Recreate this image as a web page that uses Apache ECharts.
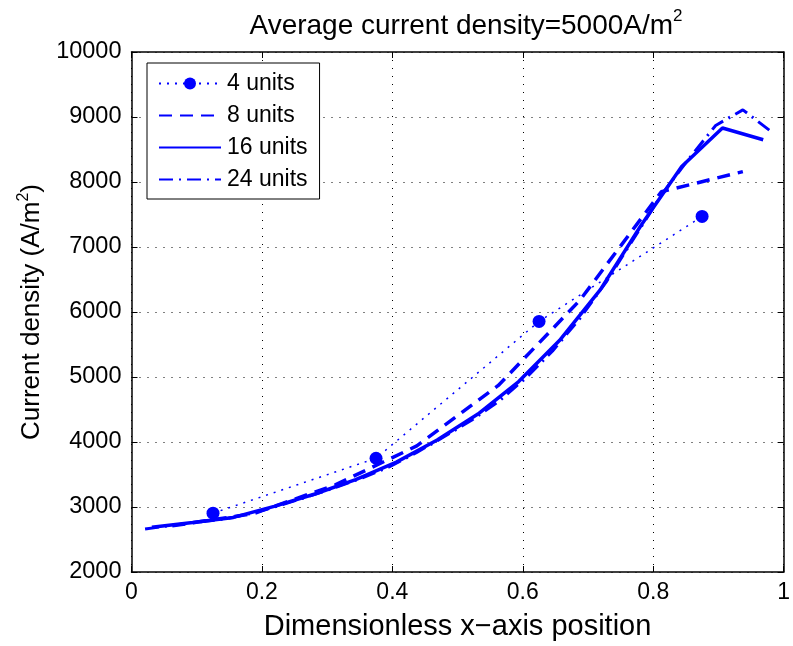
<!DOCTYPE html>
<html>
<head>
<meta charset="utf-8">
<script src="https://cdn.jsdelivr.net/npm/echarts@6/dist/echarts.min.js"></script>
<style>
html,body{margin:0;padding:0;background:#fff;}
#chart{width:793px;height:646px;}
</style>
</head>
<body>
<div id="chart"></div>
<script>
// ---- data ----
const x4 = [0.125, 0.375, 0.625, 0.875];
const y4 = [2905, 3750, 5855, 7470];

const x8 = [0.0625, 0.1875, 0.3125, 0.4375, 0.5625, 0.6875, 0.8125, 0.9375];
const y8 = [2710, 2900, 3340, 3940, 4870, 6180, 7850, 8160];

const x16 = [0.03125, 0.09375, 0.15625, 0.21875, 0.28125, 0.34375, 0.40625, 0.46875,
             0.53125, 0.59375, 0.65625, 0.71875, 0.78125, 0.84375, 0.90625, 0.96875];
const y16 = [2690, 2760, 2840, 3010, 3200, 3420, 3690, 4030,
             4430, 4930, 5560, 6340, 7330, 8240, 8830, 8650];

const x24 = [0.0208, 0.0625, 0.1042, 0.1458, 0.1875, 0.2292, 0.2708, 0.3125,
             0.3542, 0.3958, 0.4375, 0.4792, 0.5208, 0.5625, 0.6042, 0.6458,
             0.6875, 0.7292, 0.7708, 0.8125, 0.8542, 0.8958, 0.9375, 0.9792];
const y24 = [2660, 2720, 2770, 2820, 2910, 3030, 3160, 3300,
             3450, 3620, 3840, 4080, 4330, 4620, 4980, 5400,
             5900, 6480, 7140, 7800, 8350, 8870, 9110, 8790];

const seriesNames = ['4 units', '8 units', '16 units', '24 units'];

const titleMain = 'Average current density=5000A/m';
const yNameMain = 'Current density (A/m';
const xName = 'Dimensionless x\u2212axis position';

// ---- chart ----
const FONT = '"Liberation Sans", Arial, Helvetica, sans-serif';
const BLUE = '#0000ff';
const zip = (xs, ys) => xs.map((x, i) => [x, ys[i]]);

const chart = echarts.init(document.getElementById('chart'), null, {renderer: 'canvas'});

const gridStyle = {show: true, lineStyle: {color: '#000', width: 1, type: [1, 7]}};
const axisBase = {
  axisLine: {show: true, onZero: false, lineStyle: {color: '#000', width: 1.5}},
  axisTick: {show: true, inside: true, length: 6, lineStyle: {color: '#000', width: 1}},
};

const option = {
  backgroundColor: '#fff',
  animation: false,
  textStyle: {fontFamily: FONT},
  title: {
    text: '{a|' + titleMain + '}{s|2}',
    left: 461, top: 3, textAlign: 'center',
    textStyle: {
      fontWeight: 'normal',
      rich: {
        a: {fontFamily: FONT, fontSize: 28, fontWeight: 'normal', color: '#000', lineHeight: 32, verticalAlign: 'bottom'},
        s: {fontFamily: FONT, fontSize: 17, fontWeight: 'normal', color: '#000', lineHeight: 32, verticalAlign: 'top'}
      }
    }
  },
  grid: {left: 131.5, right: 3.5, top: 52, bottom: 72.7, containLabel: false},
  legend: {
    data: [
      {name: seriesNames[0]},
      {name: seriesNames[1], itemStyle: {opacity: 0}},
      {name: seriesNames[2], itemStyle: {opacity: 0}},
      {name: seriesNames[3], itemStyle: {opacity: 0}}
    ],
    orient: 'vertical',
    left: 147, top: 63,
    itemWidth: 62, itemHeight: 15, itemGap: 9,
    padding: [9, 12, 8, 11],
    backgroundColor: '#fff',
    borderColor: '#000', borderWidth: 1, borderRadius: 0,
    textStyle: {fontFamily: FONT, fontSize: 23, color: '#000', lineHeight: 20, padding: [0, 0, 0, 1]}
  },
  xAxis: [
    Object.assign({}, axisBase, {
      type: 'value', position: 'bottom', min: 0, max: 1, interval: 0.2,
      axisLabel: {color: '#000', fontSize: 23, fontFamily: FONT, margin: 9,
        formatter: v => String(+v.toFixed(1))},
      splitLine: gridStyle,
      name: xName, nameLocation: 'middle', nameGap: 40,
      nameTextStyle: {color: '#000', fontSize: 29, fontFamily: FONT}
    }),
    Object.assign({}, axisBase, {
      type: 'value', position: 'top', min: 0, max: 1, interval: 0.2,
      axisLabel: {show: false}, splitLine: {show: false}
    })
  ],
  yAxis: [
    Object.assign({}, axisBase, {
      type: 'value', position: 'left', min: 2000, max: 10000, interval: 1000,
      axisLabel: {color: '#000', fontSize: 23.5, fontFamily: FONT, margin: 10,
        formatter: v => String(v)},
      splitLine: gridStyle,
      name: '{a|' + yNameMain + '}{s|2}{a|)}',
      nameLocation: 'middle', nameGap: 82, nameRotate: 90,
      nameTextStyle: {
        rich: {
          a: {fontFamily: FONT, fontSize: 26, color: '#000', lineHeight: 30, verticalAlign: 'bottom'},
          s: {fontFamily: FONT, fontSize: 16, color: '#000', lineHeight: 30, verticalAlign: 'top'}
        }
      }
    }),
    Object.assign({}, axisBase, {
      type: 'value', position: 'right', min: 2000, max: 10000, interval: 1000,
      axisLabel: {show: false}, splitLine: {show: false}
    })
  ],
  series: [
    {
      name: seriesNames[0], type: 'line', data: zip(x4, y4),
      symbol: 'circle', symbolSize: 13, showSymbol: true,
      itemStyle: {color: BLUE},
      lineStyle: {color: BLUE, width: 1.5, type: [2, 6]}
    },
    {
      name: seriesNames[1], type: 'line', data: zip(x8, y8),
      symbol: 'none',
      itemStyle: {color: BLUE},
      lineStyle: {color: BLUE, width: 3.5, type: [13, 8]}
    },
    {
      name: seriesNames[2], type: 'line', data: zip(x16, y16),
      symbol: 'none',
      itemStyle: {color: BLUE},
      lineStyle: {color: BLUE, width: 3.5, type: 'solid'}
    },
    {
      name: seriesNames[3], type: 'line', data: zip(x24, y24),
      symbol: 'none',
      itemStyle: {color: BLUE},
      lineStyle: {color: BLUE, width: 3, type: [14, 6, 2, 6]}
    }
  ]
};
chart.setOption(option);
</script>
</body>
</html>
